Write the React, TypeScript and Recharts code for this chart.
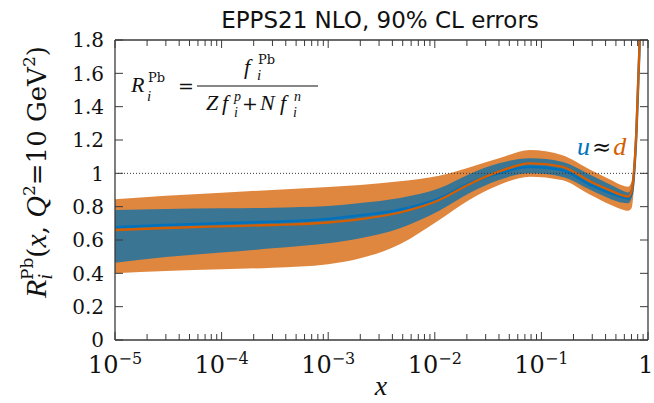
import {
    Area,
    ComposedChart,
    Line,
    ReferenceLine,
    XAxis,
    YAxis,
} from 'recharts';

// x grid (log scale) and values
const xValues = [
    1e-5, 3e-5, 1e-4, 3e-4, 1e-3, 2e-3, 4.7e-3, 0.011, 0.021, 0.04, 0.078,
    0.155, 0.29, 0.45, 0.56, 0.65, 0.7, 0.74, 0.78, 0.81, 0.84, 0.88,
];
const dLow = [
    0.4, 0.414, 0.424, 0.434, 0.455, 0.49, 0.575, 0.72, 0.84, 0.93, 0.98, 0.96,
    0.87, 0.81, 0.785, 0.775, 0.79, 0.92, 1.16, 1.45, 1.75, 2.4,
];
const dHigh = [
    0.844, 0.866, 0.884, 0.9, 0.918, 0.93, 0.952, 0.985, 1.035, 1.09, 1.14, 1.11,
    1.02, 0.96, 0.93, 0.92, 0.95, 1.08, 1.35, 1.65, 2.0, 2.9,
];
const uLow = [
    0.464, 0.498, 0.525, 0.55, 0.58, 0.61, 0.67, 0.775, 0.88, 0.96, 1.0, 0.98,
    0.9, 0.845, 0.825, 0.82, 0.85, 0.97, 1.22, 1.5, 1.8, 2.5,
];
const uHigh = [
    0.78, 0.786, 0.79, 0.794, 0.804, 0.822, 0.852, 0.91, 0.995, 1.06, 1.09, 1.07,
    0.99, 0.93, 0.9, 0.885, 0.91, 1.04, 1.3, 1.6, 1.95, 2.8,
];
const dCentral = [
    0.66, 0.672, 0.682, 0.69, 0.705, 0.725, 0.765, 0.84, 0.935, 1.01, 1.06, 1.04,
    0.95, 0.895, 0.87, 0.86, 0.89, 1.02, 1.27, 1.56, 1.86, 2.6,
];
const uCentral = [
    0.676, 0.69, 0.7, 0.71, 0.726, 0.748, 0.782, 0.85, 0.94, 1.0, 1.04, 1.02,
    0.93, 0.88, 0.86, 0.85, 0.875, 1.0, 1.26, 1.55, 1.85, 2.6,
];

const majorTicks = [1e-5, 1e-4, 1e-3, 1e-2, 1e-1, 1];
const minorMultipliers = [2, 3, 4, 5, 6, 7, 8, 9];
const yTicks = [0, 0.2, 0.4, 0.6, 0.8, 1, 1.2, 1.4, 1.6, 1.8];

const xTicks = [
    ...majorTicks,
    ...majorTicks.slice(0, -1).flatMap((m) => minorMultipliers.map((k) => k * m)),
].sort((a, b) => a - b);

const data = xValues.map((x, i) => ({
    x,
    dBand: [dLow[i], dHigh[i]],
    uBand: [uLow[i], uHigh[i]],
    d: dCentral[i],
    u: uCentral[i],
}));

const FRAME = '#3a3a3a';
const SERIF = '"DejaVu Serif", serif';
const ITAL = '"Liberation Serif", serif';

const isMajor = (v: number) => {
    const l = Math.log10(v);
    return Math.abs(l - Math.round(l)) < 1e-6;
};

const BottomTick = ({ x, y, payload }: any) => {
    const v = payload.value;
    const major = isMajor(v);
    const exp = Math.round(Math.log10(v));
    return (
        <g>
            <line x1={x} x2={x} y1={y} y2={y - (major ? 8 : 6)} stroke={FRAME} strokeWidth={1} />
            {major && (
                <text
                    x={exp === 0 ? x - 2 : x}
                    y={y + 33}
                    textAnchor="middle"
                    fontFamily={SERIF}
                    fontSize={24}
                    fill="#111"
                >
                    {exp === 0 ? (
                        '1'
                    ) : (
                        <>
                            10
                            <tspan fontSize={16} dy={-9}>
                                {'\u2212' + Math.abs(exp)}
                            </tspan>
                        </>
                    )}
                </text>
            )}
        </g>
    );
};

const TopTick = ({ x, y, payload }: any) => {
    const major = isMajor(payload.value);
    return <line x1={x} x2={x} y1={y} y2={y + (major ? 8 : 6)} stroke={FRAME} strokeWidth={1} />;
};

const LeftTick = ({ x, y, payload }: any) => (
    <g>
        <line x1={x} x2={x + 8} y1={y} y2={y} stroke={FRAME} strokeWidth={1} />
        <text x={x - 11} y={y} dy="0.36em" textAnchor="end" fontFamily={SERIF} fontSize={20} fill="#111">
            {String(payload.value)}
        </text>
    </g>
);

const RightTick = ({ x, y }: any) => (
    <line x1={x} x2={x - 8} y1={y} y2={y} stroke={FRAME} strokeWidth={1} />
);

export default function App() {
    return (
        <div style={{ position: 'absolute', left: 0, top: 0, width: 654, height: 403, background: '#fff' }}>
            <ComposedChart
                width={654}
                height={403}
                data={data}
                margin={{ top: 39, right: 0, bottom: 0, left: 0 }}
            >
                <XAxis
                    xAxisId="b"
                    dataKey="x"
                    type="number"
                    scale="log"
                    domain={[1e-5, 1]}
                    allowDataOverflow
                    ticks={xTicks}
                    interval={0}
                    tickSize={0}
                    tickMargin={0}
                    tickLine={false}
                    tick={BottomTick}
                    height={63}
                    axisLine={{ stroke: FRAME, strokeWidth: 1.3 }}
                />
                <XAxis
                    xAxisId="t"
                    orientation="top"
                    dataKey="x"
                    type="number"
                    scale="log"
                    domain={[1e-5, 1]}
                    allowDataOverflow
                    ticks={xTicks}
                    interval={0}
                    tickSize={0}
                    tickMargin={0}
                    tickLine={false}
                    tick={TopTick}
                    height={1}
                    axisLine={{ stroke: FRAME, strokeWidth: 1.3 }}
                />
                <YAxis
                    yAxisId="l"
                    type="number"
                    domain={[0, 1.8]}
                    allowDataOverflow
                    ticks={yTicks}
                    interval={0}
                    tickSize={0}
                    tickMargin={0}
                    tickLine={false}
                    tick={LeftTick}
                    width={115}
                    axisLine={{ stroke: FRAME, strokeWidth: 1.3 }}
                />
                <YAxis
                    yAxisId="r"
                    orientation="right"
                    type="number"
                    domain={[0, 1.8]}
                    allowDataOverflow
                    ticks={yTicks}
                    interval={0}
                    tickSize={0}
                    tickMargin={0}
                    tickLine={false}
                    tick={RightTick}
                    width={6}
                    axisLine={{ stroke: FRAME, strokeWidth: 1.3 }}
                />
                <Area
                    xAxisId="b"
                    yAxisId="l"
                    dataKey="dBand"
                    type="monotone"
                    stroke="none"
                    fill="#E0873F"
                    fillOpacity={1}
                    isAnimationActive={false}
                />
                <Area
                    xAxisId="b"
                    yAxisId="l"
                    dataKey="uBand"
                    type="monotone"
                    stroke="none"
                    fill="#3A7594"
                    fillOpacity={1}
                    isAnimationActive={false}
                />
                <Line
                    xAxisId="b"
                    yAxisId="l"
                    dataKey="u"
                    type="monotone"
                    stroke="#0072BD"
                    strokeWidth={2.5}
                    dot={false}
                    activeDot={false}
                    isAnimationActive={false}
                />
                <Line
                    xAxisId="b"
                    yAxisId="l"
                    dataKey="d"
                    type="monotone"
                    stroke="#D55E00"
                    strokeWidth={2.3}
                    dot={false}
                    activeDot={false}
                    isAnimationActive={false}
                />
                <Line
                    xAxisId="t"
                    yAxisId="r"
                    dataKey="u"
                    stroke="none"
                    dot={false}
                    activeDot={false}
                    isAnimationActive={false}
                />
                <ReferenceLine
                    xAxisId="b"
                    yAxisId="l"
                    y={1}
                    stroke="#333"
                    strokeWidth={1}
                    strokeDasharray="1 2"
                />
            </ComposedChart>

            <svg
                width={654}
                height={403}
                style={{ position: 'absolute', left: 0, top: 0, pointerEvents: 'none' }}
            >
                <text x={380} y={28} textAnchor="middle" fontFamily='"DejaVu Sans", sans-serif' fontSize={23} fill="#111">
                    EPPS21 NLO, 90% CL errors
                </text>

                {/* y label */}
                <text
                    x={46}
                    y={172}
                    transform="rotate(-90 46 172)"
                    textAnchor="middle"
                    fontFamily={SERIF}
                    fontSize={26}
                    fill="#111"
                >
                    <tspan fontFamily={ITAL} fontStyle="italic" fontSize={30}>R</tspan>
                    <tspan fontFamily={ITAL} fontSize={20} fontStyle="italic" dy={6}>i</tspan>
                    <tspan fontSize={17} dx={-6} dy={-19}>Pb</tspan>
                    <tspan dy={13}>(</tspan>
                    <tspan fontFamily={ITAL} fontStyle="italic" fontSize={30}>x</tspan>
                    <tspan>, </tspan>
                    <tspan fontFamily={ITAL} fontStyle="italic" fontSize={30}>Q</tspan>
                    <tspan fontSize={17} dy={-11}>2</tspan>
                    <tspan dy={11}>=10 GeV</tspan>
                    <tspan fontSize={17} dy={-11}>2</tspan>
                    <tspan dy={11}>)</tspan>
                </text>

                {/* x label */}
                <text x={381} y={395} textAnchor="middle" fontFamily={ITAL} fontStyle="italic" fontSize={28} fill="#111">
                    x
                </text>

                {/* formula */}
                <g fontFamily={SERIF} fill="#111">
                    <text x={131} y={92} fontSize={22} fontFamily={ITAL} fontStyle="italic">R</text>
                    <text x={148} y={82} fontSize={13}>Pb</text>
                    <text x={147} y={101} fontSize={15} fontFamily={ITAL} fontStyle="italic">i</text>
                    <text x={178} y={93} fontSize={19}>=</text>
                    <line x1={197} x2={318} y1={86} y2={86} stroke="#111" strokeWidth={1} />
                    <text x={244} y={74} fontSize={22} fontFamily={ITAL} fontStyle="italic">f</text>
                    <text x={258} y={64} fontSize={13}>Pb</text>
                    <text x={257} y={80} fontSize={15} fontFamily={ITAL} fontStyle="italic">i</text>
                    <text x={206} y={110} fontSize={22} fontFamily={ITAL} fontStyle="italic">Z</text>
                    <text x={222} y={110} fontSize={22} fontFamily={ITAL} fontStyle="italic">f</text>
                    <text x={234} y={101} fontSize={14} fontFamily={ITAL} fontStyle="italic">p</text>
                    <text x={234} y={117} fontSize={14} fontFamily={ITAL} fontStyle="italic">i</text>
                    <text x={242} y={110} fontSize={19}>+</text>
                    <text x={260} y={110} fontSize={22} fontFamily={ITAL} fontStyle="italic">N</text>
                    <text x={280} y={110} fontSize={22} fontFamily={ITAL} fontStyle="italic">f</text>
                    <text x={294} y={101} fontSize={14} fontFamily={ITAL} fontStyle="italic">n</text>
                    <text x={293} y={117} fontSize={14} fontFamily={ITAL} fontStyle="italic">i</text>
                </g>

                {/* u ≈ d */}
                <text x={577} y={155} fontFamily={SERIF} fontSize={23}>
                    <tspan fill="#0072BD" fontFamily={ITAL} fontStyle="italic" fontSize={26}>u</tspan>
                    <tspan fill="#111" dx={2}>≈</tspan>
                    <tspan fill="#D55E00" fontFamily={ITAL} fontStyle="italic" fontSize={26} dx={2}>d</tspan>
                </text>
            </svg>
        </div>
    );
}
